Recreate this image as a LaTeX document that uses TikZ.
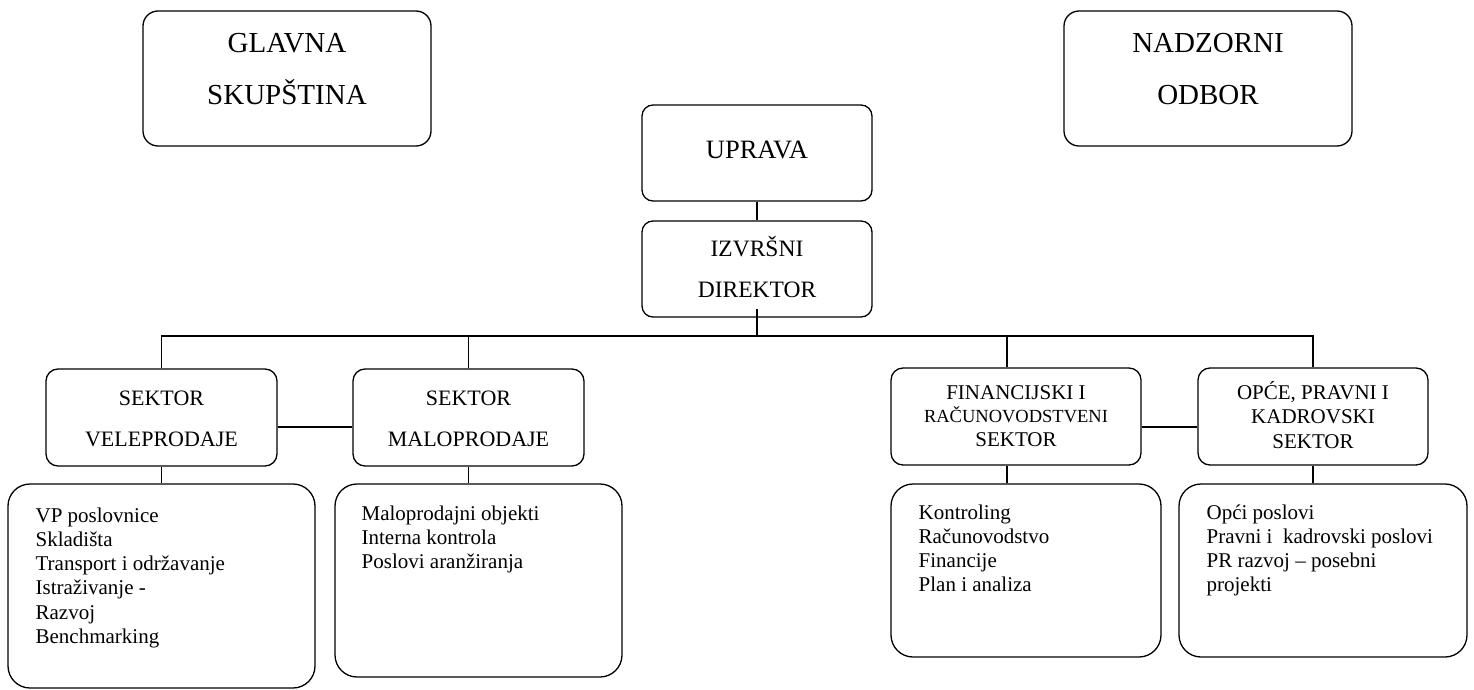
\documentclass[tikz,border=0pt]{standalone}
\usepackage{fontspec}
\setmainfont{Liberation Serif}
\newcommand{\mytabc}[1]{\begin{tabular}[t]{@{}c@{}}#1\end{tabular}}
\newcommand{\mytabl}[1]{\begin{tabular}[t]{@{}l@{}}#1\end{tabular}}
\begin{document}
\begin{tikzpicture}[x=1pt,y=-1pt,line width=1.3pt,
  topbox/.style={draw,rounded corners=15pt,inner sep=0pt,minimum width=288pt,minimum height=135pt},
  midbox/.style={draw,rounded corners=11pt,inner sep=0pt,minimum width=230pt,minimum height=96pt},
  secbox/.style={draw,rounded corners=12pt,inner sep=0pt,minimum height=97pt},
  lowbox/.style={draw,rounded corners=22pt,inner sep=0pt},
  tc/.style={anchor=base,inner sep=0pt},
  tl/.style={anchor=base west,inner sep=0pt,font=\fontsize{21}{24.3}\selectfont}]
\useasboundingbox (0,0) rectangle (1474,690);

% top boxes
\node[topbox] (gs) at (287,78.5) {};
\node[topbox] (no) at (1208,78.5) {};
\node[tc,font=\fontsize{29}{52}\selectfont] (gst) at (287,53) {\mytabc{GLAVNA\\SKUPŠTINA}};
\node[tc,font=\fontsize{29}{52}\selectfont] (not) at (1208,53) {\mytabc{NADZORNI\\ODBOR}};

% management
\node[midbox] (up) at (757,153) {};
\node[midbox] (id) at (757,269) {};
\node[tc,font=\fontsize{26.5}{30}\selectfont] (upt) at (757,158) {UPRAVA};
\node[tc,font=\fontsize{23.5}{41}\selectfont] (idt) at (757,256) {\mytabc{IZVRŠNI\\DIREKTOR}};

% sectors
\node[secbox,minimum width=231pt] (sv) at (161.5,417.5) {};
\node[secbox,minimum width=231pt] (sm) at (468.5,417.5) {};
\node[secbox,minimum width=250pt] (sf) at (1016,416.5) {};
\node[secbox,minimum width=230pt] (so) at (1313,416.5) {};
\node[tc,font=\fontsize{22}{41}\selectfont] (svt) at (161.5,405) {\mytabc{SEKTOR\\VELEPRODAJE}};
\node[tc,font=\fontsize{22}{41}\selectfont] (smt) at (468.5,405) {\mytabc{SEKTOR\\MALOPRODAJE}};
\node[tc,font=\fontsize{21}{23.5}\selectfont] (sft) at (1016,399) {\mytabc{FINANCIJSKI I\\{\fontsize{18.5}{23.5}\selectfont RAČUNOVODSTVENI}\\SEKTOR}};
\node[tc,font=\fontsize{21}{24.5}\selectfont] (sot) at (1313,399) {\mytabc{OPĆE, PRAVNI I\\KADROVSKI\\SEKTOR}};

% lower boxes
\node[lowbox,minimum width=307pt,minimum height=204pt] (lv) at (161.5,586) {};
\node[lowbox,minimum width=287pt,minimum height=193pt] (lm) at (478.5,580.5) {};
\node[lowbox,minimum width=270pt,minimum height=173pt] (lf) at (1026,570.5) {};
\node[lowbox,minimum width=288pt,minimum height=173pt] (lo) at (1323,570.5) {};
\node[tl] (lvt) at (35,522) {\mytabl{VP poslovnice\\Skladišta\\Transport i održavanje\\Istraživanje -\\Razvoj\\Benchmarking}};
\node[tl] (lmt) at (361,520) {\mytabl{Maloprodajni objekti\\Interna kontrola\\Poslovi aranžiranja}};
\node[tl] (lft) at (918,519) {\mytabl{Kontroling\\Računovodstvo\\Financije\\Plan i analiza}};
\node[tl] (lot) at (1206,519) {\mytabl{Opći poslovi\\Pravni i\ \ kadrovski poslovi\\PR razvoj – posebni\\projekti}};

% connectors
\coordinate (bus) at (757,336);
\draw (up.south) -- (id.north);
\draw ([yshift=9pt]id.south) -- (id.south |- bus);
\draw (sv.north) -- (sv.north |- bus) -- (so.north |- bus) -- (so.north);
\draw (sm.north) -- (sm.north |- bus);
\draw ([xshift=-9pt]sf.north) -- ([xshift=-9pt]sf.north |- bus);
\draw ([yshift=-9.5pt]sv.east) -- ([yshift=-9.5pt]sv.east -| sm.west);
\draw ([yshift=-10.5pt]sf.east) -- ([yshift=-10.5pt]sf.east -| so.west);
\draw (sv.south) -- (lv.north);
\draw (sm.south) -- (sm.south |- lm.north);
\draw ([xshift=-9pt]sf.south) -- ([xshift=-9pt]sf.south |- lf.north);
\draw (so.south) -- (so.south |- lo.north);
\end{tikzpicture}
\end{document}
